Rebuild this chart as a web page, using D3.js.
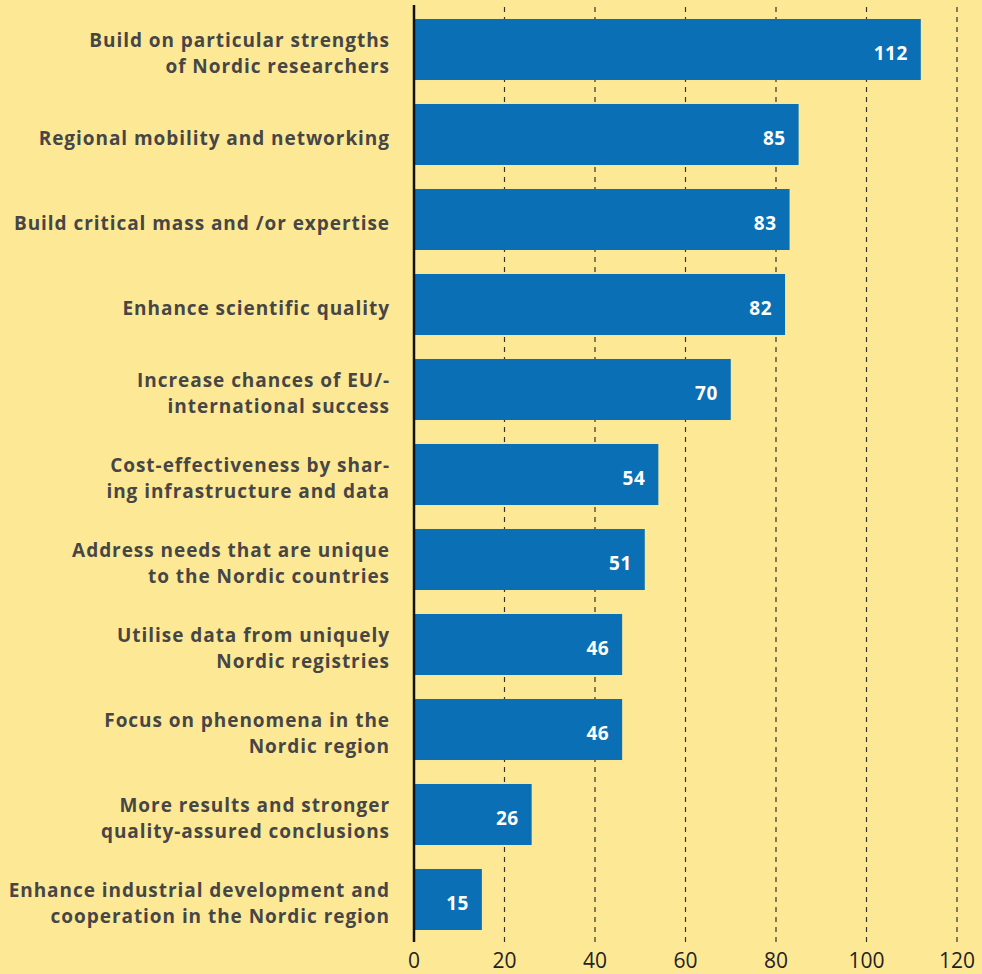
<!DOCTYPE html>
<html>
<head>
<meta charset="utf-8">
<script src="https://cdn.jsdelivr.net/npm/d3@7"></script>
<style>
  html, body { margin: 0; padding: 0; background: #fde995; }
  #chart { width: 982px; height: 974px; }
  text { font-family: "Open Sans", Lato, sans-serif; }
</style>
</head>
<body>
<div id="chart"></div>
<script>
// categories (each label split into its printed lines)
const categories = [
  ["Build on particular strengths", "of Nordic researchers"],
  ["Regional mobility and networking"],
  ["Build critical mass and /or expertise"],
  ["Enhance scientific quality"],
  ["Increase chances of EU/-", "international success"],
  ["Cost-effectiveness by shar-", "ing infrastructure and data"],
  ["Address needs that are unique", "to the Nordic countries"],
  ["Utilise data from uniquely", "Nordic registries"],
  ["Focus on phenomena in the", "Nordic region"],
  ["More results and stronger", "quality-assured conclusions"],
  ["Enhance industrial development and", "cooperation in the Nordic region"]
];
const values = [112, 85, 83, 82, 70, 54, 51, 46, 46, 26, 15];
const ticks = [0, 20, 40, 60, 80, 100, 120];

// set up graph area
let margin = {top: 7, right: 25, bottom: 32, left: 414},
    width = 982 - margin.left - margin.right,
    height = 974 - margin.top - margin.bottom;

let svg = d3.select("#chart").append("svg")
    .attr("width", 982)
    .attr("height", 974)
  .append("g")
    .attr("transform", "translate(" + margin.left + "," + margin.top + ")");

// scales
let x = d3.scaleLinear().domain([0, 120]).range([0, 543]);
let y = d3.scaleBand()
    .domain(d3.range(values.length))
    .range([0, height])
    .paddingInner(0.282)
    .paddingOuter(0.141);

// dashed gridlines
svg.selectAll(".grid")
    .data(ticks.filter(d => d > 0))
  .enter().append("line")
    .attr("class", "grid")
    .attr("x1", d => x(d)).attr("x2", d => x(d))
    .attr("y1", 0).attr("y2", height)
    .attr("stroke", "#333")
    .attr("stroke-width", 1.2)
    .attr("stroke-dasharray", "5,5");

// bars
svg.selectAll(".bar")
    .data(values)
  .enter().append("rect")
    .attr("class", "bar")
    .attr("x", x(0))
    .attr("y", (d, i) => y(i))
    .attr("width", d => x(d) - x(0))
    .attr("height", y.bandwidth())
    .attr("fill", "#0a6fb5");

// value labels
svg.selectAll(".val")
    .data(values)
  .enter().append("text")
    .attr("class", "val")
    .attr("x", d => x(d) - 13)
    .attr("y", (d, i) => y(i) + y.bandwidth() / 2)
    .attr("dy", "0.55em")
    .attr("text-anchor", "end")
    .attr("fill", "#fff")
    .attr("font-weight", "bold")
    .attr("font-size", 19)
    .attr("letter-spacing", 0.5)
    .text(d => d);

// category labels
let labels = svg.selectAll(".cat")
    .data(categories)
  .enter().append("text")
    .attr("class", "cat")
    .attr("text-anchor", "end")
    .attr("fill", "#464646")
    .attr("font-weight", "bold")
    .attr("font-size", 19)
    .attr("letter-spacing", 0.95);

labels.each(function(lines, i) {
  let cy = y(i) + y.bandwidth() / 2;
  let lh = 25.5;
  let start = cy - (lines.length - 1) * lh / 2;
  d3.select(this).selectAll("tspan")
      .data(lines)
    .enter().append("tspan")
      .attr("x", -24)
      .attr("y", (d, j) => start + j * lh)
      .attr("dy", "0.55em")
      .text(d => d);
});

// axis line
svg.append("line")
    .attr("x1", x(0)).attr("x2", x(0))
    .attr("y1", -2).attr("y2", height)
    .attr("stroke", "#111")
    .attr("stroke-width", 2.5);

// x axis tick labels
svg.selectAll(".tick-label")
    .data(ticks)
  .enter().append("text")
    .attr("class", "tick-label")
    .attr("x", d => x(d))
    .attr("y", height + 26)
    .attr("text-anchor", "middle")
    .attr("fill", "#222")
    .attr("font-family", "Lato, sans-serif")
    .attr("font-size", 21)
    .text(d => d);
</script>
</body>
</html>
